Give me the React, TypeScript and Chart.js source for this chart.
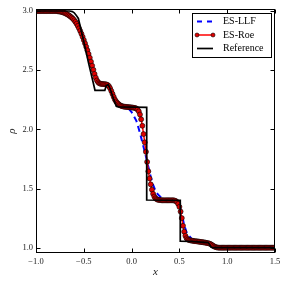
import React, { useEffect, useRef } from "react";
import { Chart, registerables } from "chart.js";

Chart.register(...registerables);

// ---- axis ranges and ticks ----
const X_MIN = -1.0;
const X_MAX = 1.5;
const Y_MIN = 0.955;
const Y_MAX = 3.017;
const X_TICKS = [-1.0, -0.5, 0.0, 0.5, 1.0, 1.5];
const Y_TICKS = [1.0, 1.5, 2.0, 2.5, 3.0];

const SERIES_NAMES = ["ES-LLF", "ES-Roe", "Reference"];

// ---- ES-Roe (grid start and spacing, then values) ----
const ROE_X0 = -1.0;
const ROE_DX = 0.0125;
const ROE_Y = [
  3.0, 3.0, 3.0, 3.0, 3.0, 3.0, 3.0, 3.0, 3.0, 3.0, 3.0, 3.0, 3.0, 3.0, 3.0, 3.0, 3.0, 3.0,
  2.998, 2.997, 2.995, 2.993, 2.99, 2.987, 2.983, 2.978, 2.973, 2.967,
  2.96, 2.952, 2.944, 2.934, 2.922, 2.908, 2.892, 2.874, 2.854, 2.832,
  2.808, 2.782, 2.755, 2.727, 2.698, 2.668, 2.637, 2.605, 2.572, 2.538,
  2.503, 2.468, 2.437, 2.413, 2.398, 2.389, 2.385, 2.384, 2.383, 2.382,
  2.381, 2.379, 2.375, 2.365, 2.348, 2.325, 2.3, 2.275, 2.252, 2.236,
  2.224, 2.214, 2.206, 2.2, 2.196, 2.193, 2.191, 2.19, 2.189, 2.188,
  2.187, 2.186, 2.185, 2.184, 2.182, 2.18, 2.176, 2.168, 2.152, 2.125,
  2.085, 2.03, 1.96, 1.89, 1.81, 1.725, 1.645, 1.585, 1.535, 1.49,
  1.455, 1.432, 1.418, 1.41, 1.405, 1.403, 1.402, 1.401,
  1.4, 1.4, 1.4, 1.4, 1.4, 1.4, 1.4, 1.4, 1.4, 1.4,
  1.398, 1.394, 1.386, 1.37, 1.345, 1.305, 1.25, 1.185, 1.135, 1.1,
  1.08, 1.07, 1.065, 1.062, 1.06, 1.058, 1.057, 1.055, 1.054, 1.053,
  1.051, 1.05, 1.048, 1.047, 1.045, 1.044, 1.042, 1.04, 1.038, 1.035,
  1.031, 1.025, 1.018, 1.011, 1.006, 1.003, 1.001,
  1.0, 1.0, 1.0, 1.0, 1.0, 1.0, 1.0, 1.0, 1.0, 1.0, 1.0, 1.0,
  1.0, 1.0, 1.0, 1.0, 1.0, 1.0, 1.0, 1.0, 1.0, 1.0, 1.0, 1.0,
  1.0, 1.0, 1.0, 1.0, 1.0, 1.0, 1.0, 1.0, 1.0, 1.0, 1.0, 1.0,
  1.0, 1.0, 1.0, 1.0, 1.0, 1.0, 1.0, 1.0, 1.0, 1.0, 1.0, 1.0,
];

// ---- ES-LLF ----
const LLF_X0 = -1.0;
const LLF_DX = 0.025;
const LLF_Y = [
  3.0, 3.0, 3.0, 3.0, 3.0, 3.0, 3.0, 3.0, 3.0,
  2.998, 2.995, 2.99, 2.983, 2.973, 2.96, 2.944, 2.922, 2.892, 2.854,
  2.808, 2.755, 2.698, 2.637, 2.572, 2.505, 2.44, 2.402, 2.39, 2.386,
  2.381, 2.37, 2.345, 2.3, 2.256, 2.228, 2.21, 2.199, 2.19, 2.182,
  2.168, 2.145, 2.11, 2.072, 2.005, 1.93, 1.85, 1.77, 1.685, 1.6,
  1.53, 1.48, 1.45, 1.43, 1.417, 1.408, 1.403, 1.401, 1.4, 1.398,
  1.39, 1.36, 1.285, 1.19, 1.13, 1.1, 1.078, 1.063, 1.055, 1.051,
  1.048, 1.045, 1.042, 1.037, 1.03, 1.02, 1.008, 1.003, 1.001,
  1.0, 1.0, 1.0, 1.0, 1.0, 1.0, 1.0, 1.0, 1.0, 1.0, 1.0, 1.0,
  1.0, 1.0, 1.0, 1.0, 1.0, 1.0, 1.0, 1.0, 1.0, 1.0, 1.0,
];

// ---- Reference solution (breakpoints) ----
const REF_X = [
  -1.0, -0.65, -0.62, -0.6, -0.58, -0.557, -0.5, -0.45, -0.4, -0.383,
  -0.28, -0.265, -0.245, -0.225, -0.19, -0.16, -0.14, 0.158, 0.158, 0.509,
  0.509, 0.62, 0.8, 0.815, 0.83, 0.845, 1.5,
];
const REF_Y = [
  3.0, 3.0, 2.995, 2.985, 2.965, 2.937, 2.74, 2.56, 2.39, 2.33,
  2.33, 2.37, 2.378, 2.345, 2.26, 2.195, 2.19, 2.185, 1.403, 1.4,
  1.055, 1.053, 1.043, 1.03, 1.005, 1.0, 1.0,
];

const COLORS = { llf: "#0000ff", roe: "#ff0000", ref: "#000000" };
const SERIF = "'Liberation Serif', 'DejaVu Serif', serif";

const fmt = (v: number) => (v < 0 ? "\u2212" : "") + Math.abs(v).toFixed(1);

export default function App() {
  const ref = useRef<HTMLCanvasElement | null>(null);

  useEffect(() => {
    if (!ref.current) return;
    const roe = ROE_Y.map((y, i) => ({ x: ROE_X0 + i * ROE_DX, y }));
    const llf = LLF_Y.map((y, i) => ({ x: LLF_X0 + i * LLF_DX, y }));
    const refd = REF_X.map((x, i) => ({ x, y: REF_Y[i] }));

    const framePlugin = {
      id: "frame",
      afterDatasetsDraw(chart: any) {
        const { ctx, chartArea: a, scales } = chart;
        ctx.save();
        ctx.strokeStyle = "#000";
        ctx.lineWidth = 1;
        const L = Math.round(a.left) + 0.5;
        const R = Math.round(a.right) - 0.5;
        const T = Math.round(a.top) + 0.5;
        const B = Math.round(a.bottom) - 0.5;
        ctx.strokeRect(L, T, R - L, B - T);
        const tl = 4;
        ctx.beginPath();
        X_TICKS.forEach((v) => {
          const px = Math.round(scales.x.getPixelForValue(v)) + 0.5;
          ctx.moveTo(px, B);
          ctx.lineTo(px, B - tl);
          ctx.moveTo(px, T);
          ctx.lineTo(px, T + tl);
        });
        Y_TICKS.forEach((v) => {
          const py = Math.round(scales.y.getPixelForValue(v)) + 0.5;
          ctx.moveTo(L, py);
          ctx.lineTo(L + tl, py);
          ctx.moveTo(R, py);
          ctx.lineTo(R - tl, py);
        });
        ctx.stroke();
        ctx.restore();
      },
      afterDraw(chart: any) {
        const { ctx } = chart;
        ctx.save();
        const lx = 192, ly = 13, lw = 79, lh = 44;
        ctx.fillStyle = "#fff";
        ctx.fillRect(lx, ly, lw, lh);
        ctx.strokeStyle = "#000";
        ctx.lineWidth = 1;
        ctx.strokeRect(lx + 0.5, ly + 0.5, lw, lh);
        const rows = [21.5, 35, 48.5];
        const x0 = 197, x1 = 213;
        // ES-LLF
        ctx.strokeStyle = COLORS.llf;
        ctx.lineWidth = 2;
        ctx.setLineDash([5, 5]);
        ctx.beginPath();
        ctx.moveTo(x0, rows[0]);
        ctx.lineTo(x1, rows[0]);
        ctx.stroke();
        ctx.setLineDash([]);
        // ES-Roe
        ctx.strokeStyle = COLORS.roe;
        ctx.lineWidth = 1.5;
        ctx.beginPath();
        ctx.moveTo(x0, rows[1]);
        ctx.lineTo(x1, rows[1]);
        ctx.stroke();
        [x0, x1].forEach((xx) => {
          ctx.beginPath();
          ctx.arc(xx, rows[1], 2, 0, Math.PI * 2);
          ctx.fillStyle = "#e00000";
          ctx.fill();
          ctx.lineWidth = 0.6;
          ctx.strokeStyle = "#000";
          ctx.stroke();
        });
        // Reference
        ctx.strokeStyle = COLORS.ref;
        ctx.lineWidth = 1.7;
        ctx.beginPath();
        ctx.moveTo(x0, rows[2]);
        ctx.lineTo(x1, rows[2]);
        ctx.stroke();
        ctx.fillStyle = "#000";
        ctx.font = `10px ${SERIF}`;
        ctx.textBaseline = "middle";
        ctx.textAlign = "left";
        SERIES_NAMES.forEach((n, i) => ctx.fillText(n, 223, rows[i]));
        ctx.restore();
      },
    };

    const chart = new Chart(ref.current, {
      type: "line",
      data: {
        datasets: [
          {
            label: SERIES_NAMES[0],
            data: llf,
            borderColor: COLORS.llf,
            borderWidth: 2,
            borderDash: [6, 4],
            pointRadius: 0,
            fill: false,
            tension: 0,
            order: 3,
          },
          {
            label: SERIES_NAMES[1],
            data: roe,
            borderColor: COLORS.roe,
            borderWidth: 1.5,
            pointRadius: 2.5,
            pointBackgroundColor: "#e00000",
            pointBorderColor: "#000",
            pointBorderWidth: 0.6,
            fill: false,
            tension: 0,
            order: 2,
          },
          {
            label: SERIES_NAMES[2],
            data: refd,
            borderColor: COLORS.ref,
            borderWidth: 1.7,
            pointRadius: 0,
            fill: false,
            tension: 0,
            order: 1,
          },
        ],
      },
      options: {
        responsive: false,
        animation: false,
        devicePixelRatio: 1,
        events: [],
        layout: { padding: { left: 0, right: 13, top: 9, bottom: 0 } },
        plugins: { legend: { display: false }, tooltip: { enabled: false } },
        scales: {
          x: {
            type: "linear",
            min: X_MIN,
            max: X_MAX,
            afterBuildTicks: (s: any) => {
              s.ticks = X_TICKS.map((v) => ({ value: v }));
            },
            afterFit: (s: any) => {
              s.height = 35;
            },
            grid: { display: false, drawTicks: false },
            border: { display: false },
            ticks: {
              callback: (v: any) => fmt(Number(v)),
              font: { family: SERIF, size: 8.5 },
              color: "#222",
              padding: 4,
              maxRotation: 0,
              autoSkip: false,
            },
            title: {
              display: true,
              text: "x",
              color: "#222",
              font: { family: SERIF, size: 11, style: "italic" },
              padding: { top: 0, bottom: 9 },
            },
          },
          y: {
            type: "linear",
            min: Y_MIN,
            max: Y_MAX,
            afterBuildTicks: (s: any) => {
              s.ticks = Y_TICKS.map((v) => ({ value: v }));
            },
            afterFit: (s: any) => {
              s.width = 36;
            },
            grid: { display: false, drawTicks: false },
            border: { display: false },
            ticks: {
              callback: (v: any) => fmt(Number(v)),
              font: { family: SERIF, size: 8.5 },
              color: "#222",
              padding: 3,
              autoSkip: false,
            },
            title: {
              display: true,
              text: "\u03c1",
              color: "#222",
              font: { family: SERIF, size: 11, style: "italic" },
              padding: { top: 6, bottom: 0 },
            },
          },
        },
      },
      plugins: [framePlugin],
    });
    return () => chart.destroy();
  }, []);

  return (
    <div
      style={{
        position: "fixed",
        left: 0,
        top: 0,
        width: 288,
        height: 288,
        background: "#fff",
      }}
    >
      <canvas ref={ref} width={288} height={288} style={{ width: 288, height: 288 }} />
    </div>
  );
}
